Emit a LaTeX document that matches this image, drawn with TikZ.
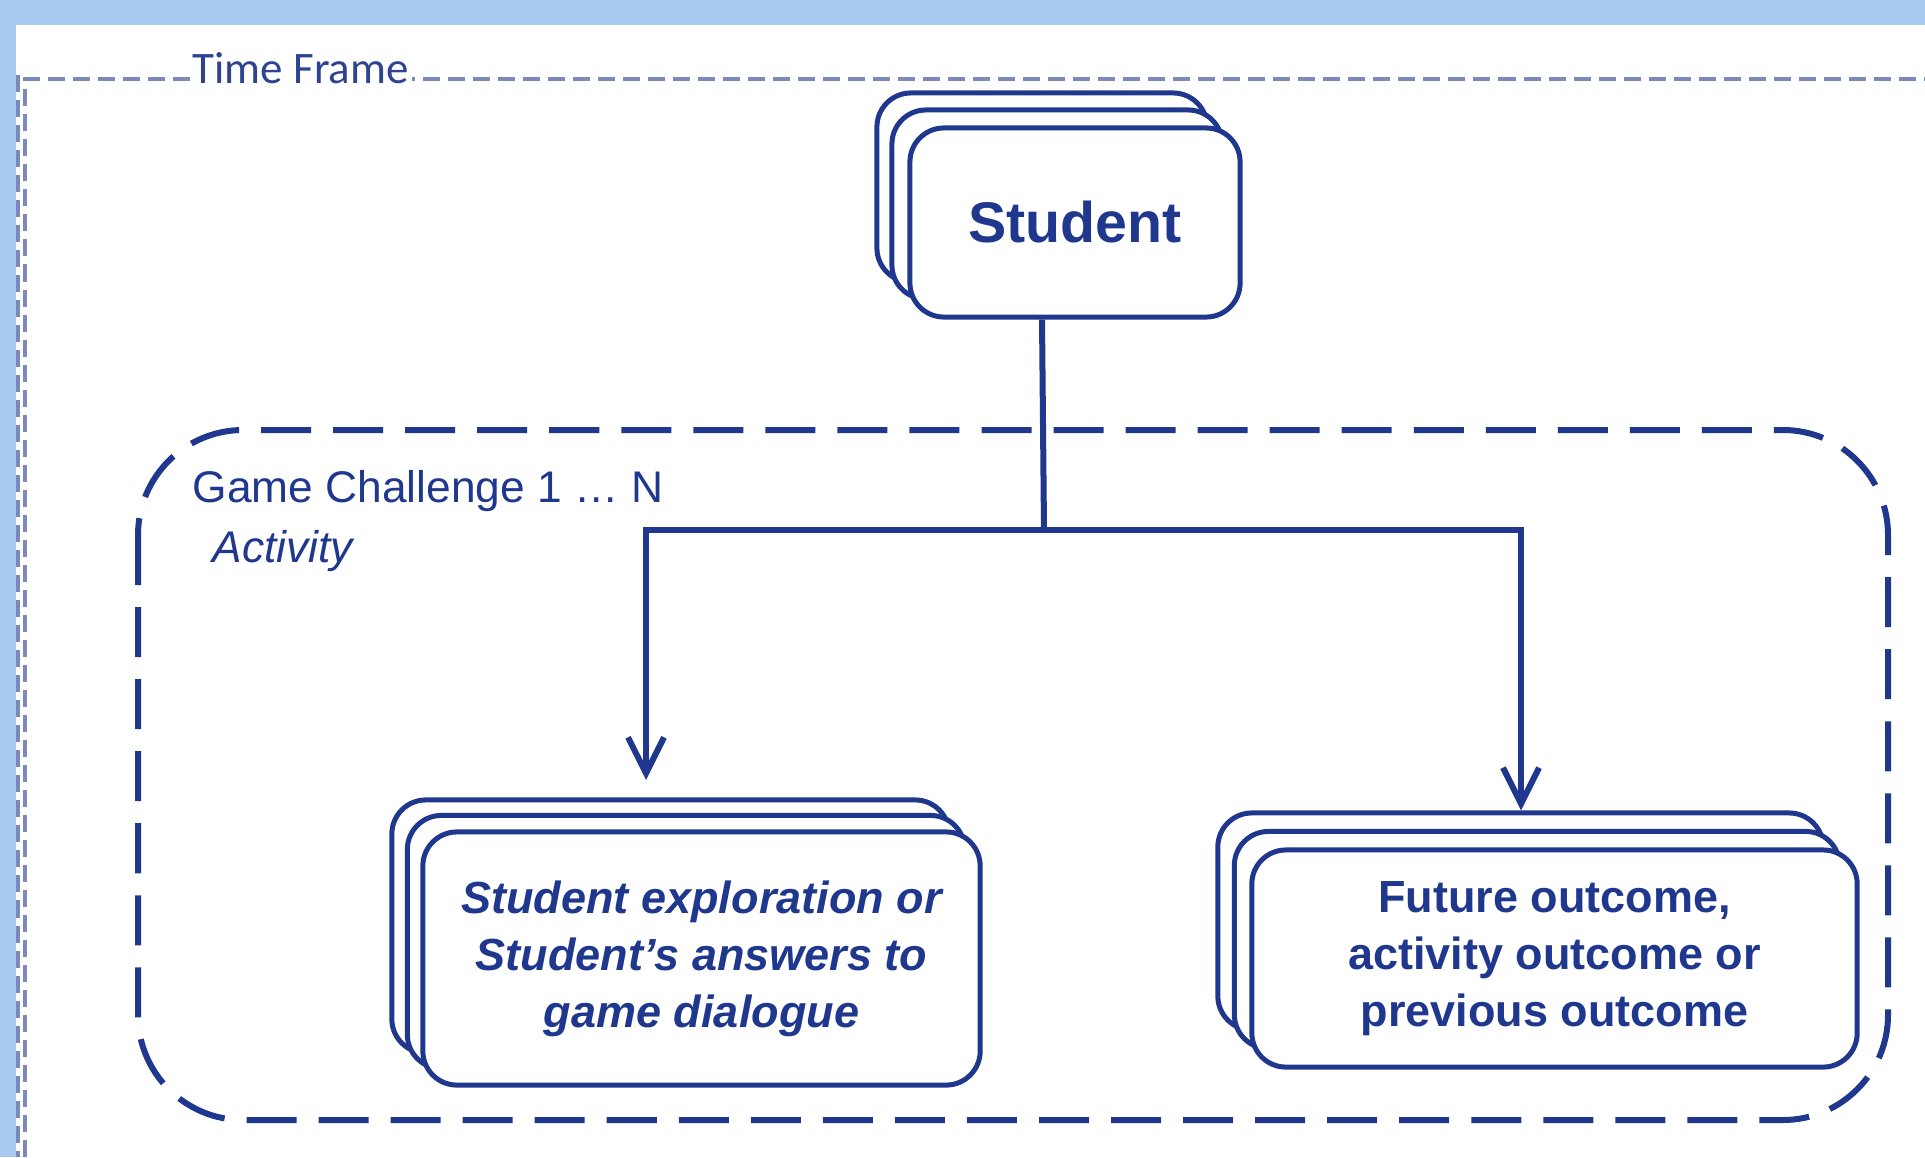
\documentclass[tikz,border=0pt]{standalone}
\usepackage{fontspec}
\setmainfont{Liberation Sans}
\newfontfamily\tffont{Carlito}
\usetikzlibrary{arrows.meta}

\definecolor{navy}{RGB}{31,56,142}
\definecolor{band}{RGB}{166,202,240}
\definecolor{tfline}{RGB}{122,136,186}
\definecolor{tftext}{RGB}{46,68,146}

\begin{document}
\begin{tikzpicture}[x=0.01cm,y=-0.01cm,
    card/.style={draw=navy,line width=0.05cm,fill=white,rounded corners=0.34cm,text=navy,inner sep=0pt},
    link/.style={draw=navy,line width=0.06cm},
    arrowhd/.style={-{Straight Barb[length=0.36cm,width=0.36cm]}},
    tfdash/.style={draw=tfline,line width=0.035cm,dash pattern=on 0.17cm off 0.08cm},
    label/.style={anchor=base west,inner sep=0pt,text=navy}]

      \useasboundingbox (0,0) rectangle (1925,1157);
      \fill[band] (0,0) rectangle (1925,1157);
      \fill[white] (16,25) rectangle (1925,1157);

      % time frame
      \draw[tfdash] (18,75) -- (18,1157);
      \draw[tfdash] (25,1157) -- (25,79) -- (1925,79);
      \node[anchor=base west,fill=white,inner xsep=0.03cm,inner ysep=0.02cm,text=tftext,
            font=\tffont\fontsize{12.8}{15}\selectfont] (tf) at (189,83) {Time Frame};

      % game challenge
      \draw[navy,line width=0.06cm,dash pattern=on 0.5cm off 0.22cm,rounded corners=1.05cm]
            (138,430) rectangle (1888,1120);
      \node[label,font=\fontsize{12.6}{15}\selectfont] (gc) at (192,502) {Game Challenge 1 … N};
      \node[label,font=\itshape\fontsize{12.6}{15}\selectfont] (act) at (212,562) {Activity};

      \node[card,minimum width=3.3cm,minimum height=1.89cm] (stu3) at (1042,187.5) {};
      \node[card,minimum width=3.3cm,minimum height=1.89cm] (stu2) at (1057,204.5) {};
      \node[card,minimum width=3.3cm,minimum height=1.89cm,
            font=\bfseries\fontsize{16.3}{20}\selectfont] (stu) at (1075,222.5) {Student};

      \node[card,minimum width=5.57cm,minimum height=2.53cm] (exp3) at (670.5,926.5) {};
      \node[card,minimum width=5.57cm,minimum height=2.53cm] (exp2) at (686,942) {};
      \node[card,minimum width=5.57cm,minimum height=2.53cm,align=center,
            font=\bfseries\itshape\fontsize{12.8}{16.2}\selectfont] (exp) at (701.5,958.5)
            {Student exploration or\\Student’s answers to\\game dialogue};

      \node[card,minimum width=6.05cm,minimum height=2.17cm] (out3) at (1520.5,921.5) {};
      \node[card,minimum width=6.05cm,minimum height=2.17cm] (out2) at (1537,940) {};
      \node[card,minimum width=6.05cm,minimum height=2.17cm,align=center,
            font=\bfseries\fontsize{12.8}{16.2}\selectfont] (out) at (1554.5,958.5)
            {Future outcome,\\activity outcome or\\previous outcome};

      \coordinate (split) at (1044,530);
      \coordinate (lturn) at (646,530);
      \coordinate (ltip) at (646,780);
      \coordinate (rturn) at (1521,530);

      \draw[link] (stu3.center |- stu.south) -- (split);
      \draw[link,arrowhd] (split) -- (lturn) -- (ltip);
      \draw[link,arrowhd] (split) -- (rturn) -- (rturn |- out3.north);
    \end{tikzpicture}
\end{document}
